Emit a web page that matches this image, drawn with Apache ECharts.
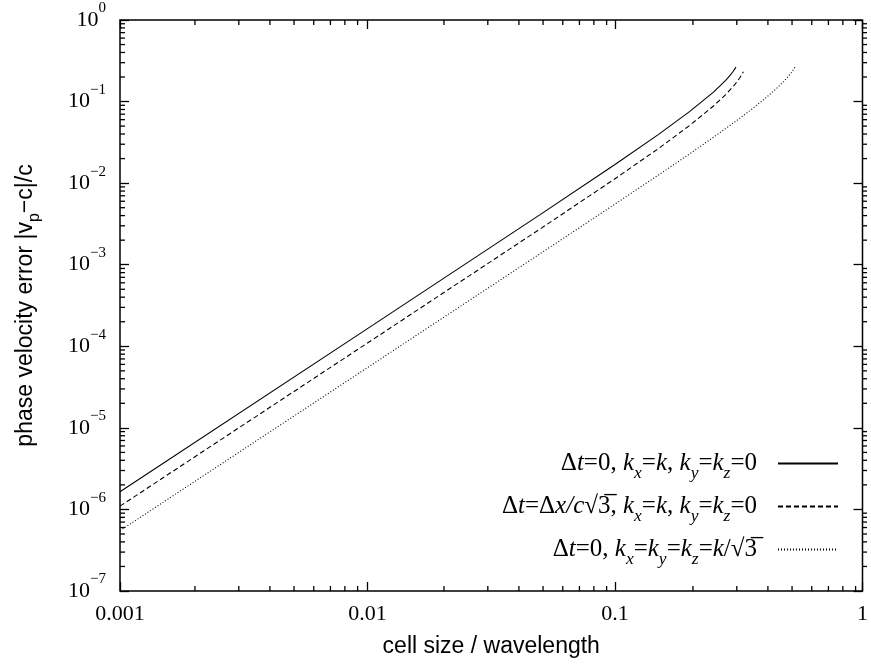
<!DOCTYPE html>
<html>
<head>
<meta charset="utf-8">
<script src="https://cdn.jsdelivr.net/npm/echarts@6/dist/echarts.min.js"></script>
<style>
  html, body { margin: 0; padding: 0; background: #fff; }
  #wrap { position: relative; width: 871px; height: 666px; }
  #chart, #ticks { position: absolute; left: 0; top: 0; width: 871px; height: 666px; }
  #ticks { pointer-events: none; }
</style>
</head>
<body>
<div id="wrap">
  <div id="chart"></div>
  <div id="ticks"></div>
</div>
<script>
// Relative phase velocity error of the Yee scheme versus cell size / wavelength.

// Along x, time step -> 0
const solidX = [0.001, 0.01, 0.05, 0.1, 0.15, 0.2, 0.25, 0.28, 0.29, 0.3, 0.305, 0.308];
const solidY = [1.645e-6, 1.645e-4, 4.141e-3, 0.01693, 0.03965, 0.0752, 0.1305, 0.1818, 0.2049, 0.2338, 0.2518, 0.2645];

// Along x, time step dx/(c*sqrt3)
const dashedX = [0.001, 0.01, 0.05, 0.1, 0.15, 0.2, 0.25, 0.28, 0.3, 0.31, 0.32, 0.325, 0.33];
const dashedY = [1.097e-6, 1.097e-4, 2.763e-3, 0.01133, 0.02664, 0.0508, 0.0882, 0.1218, 0.1526, 0.1724, 0.1974, 0.2131, 0.2326];

// Along the cube diagonal, time step -> 0
const dottedX = [0.001, 0.01, 0.05, 0.1, 0.15, 0.2, 0.25, 0.3, 0.35, 0.4, 0.45, 0.48, 0.5, 0.52, 0.53, 0.535];
const dottedY = [5.483e-7, 5.483e-5, 1.374e-3, 5.534e-3, 0.01261, 0.0228, 0.03651, 0.0543, 0.0770, 0.1063, 0.1452, 0.1759, 0.2016, 0.2345, 0.2558, 0.2686];

// Axis ranges and tick labels
const xRange = [0.001, 1];
const yRange = [1e-7, 1];
const xTickValues = [0.001, 0.01, 0.1, 1];
const xTickLabels = ['0.001', '0.01', '0.1', '1'];
const yTickExponents = ['\u22127', '\u22126', '\u22125', '\u22124', '\u22123', '\u22122', '\u22121', '0'];

// Legend entries (rich text markup)
const seriesNames = ['axis, dt=0', 'axis, dt=dx/c sqrt3', 'diagonal, dt=0'];
const legendLabels = [
  '{r|\u0394}{i|t}{r|=0, }{i|k}{sub|x}{r|=}{i|k}{r|, }{i|k}{sub|y}{r|=}{i|k}{sub|z}{r|=0}',
  '{r|\u0394}{i|t}{r|=\u0394}{i|x/c}{r|\u221a3\u0305, }{i|k}{sub|x}{r|=}{i|k}{r|, }{i|k}{sub|y}{r|=}{i|k}{sub|z}{r|=0}',
  '{r|\u0394}{i|t}{r|=0, }{i|k}{sub|x}{r|=}{i|k}{sub|y}{r|=}{i|k}{sub|z}{r|=}{i|k}{r|/\u221a3\u0305}'
];

// Minor ticks at 2..9 of every decade
function minorTicks(fromExp, toExp) {
  const vals = [];
  for (let e = fromExp; e < toExp; e++) {
    for (let m = 2; m <= 9; m++) vals.push(+(m * Math.pow(10, e)).toPrecision(6));
  }
  return vals;
}
const xMinor = minorTicks(-3, 0);
const yMinor = minorTicks(-7, 0);

const SERIF = '"Liberation Serif", "DejaVu Serif", serif';
const SANS = '"Liberation Sans", Arial, sans-serif';
const MINOR_LEN = 5;
const TICK_W = 1.3;

function pairs(xs, ys) { return xs.map((x, i) => [x, ys[i]]); }

// ---- Minor tick layer (set up first, on its own transparent canvas over the chart) ----
function minorTickSeries(values, side) {
  const horizontal = side === 'left' || side === 'right';
  const data = values.map(v => {
    if (side === 'bottom') return [v, yRange[0]];
    if (side === 'top') return [v, yRange[1]];
    if (side === 'left') return [xRange[0], v];
    return [xRange[1], v];
  });
  const offsets = { bottom: [0, -MINOR_LEN / 2], top: [0, MINOR_LEN / 2], left: [MINOR_LEN / 2, 0], right: [-MINOR_LEN / 2, 0] };
  return {
    type: 'scatter', xAxisIndex: 0, yAxisIndex: 0, silent: true, clip: false, z: 5,
    data: data, symbol: 'rect',
    symbolSize: horizontal ? [MINOR_LEN, TICK_W] : [TICK_W, MINOR_LEN],
    symbolOffset: offsets[side],
    itemStyle: { color: '#000', opacity: 1 },
    emphasis: { disabled: true }
  };
}

try {
  const tickLayer = echarts.init(document.getElementById('ticks'), null, { renderer: 'canvas' });
  tickLayer.setOption({
    animation: false,
    grid: { left: 120, right: 4, top: 20, bottom: 75, show: false },
    xAxis: [{ type: 'log', logBase: 10, min: xRange[0], max: xRange[1], position: 'bottom',
      axisLine: { show: false }, splitLine: { show: false }, axisTick: { show: false }, axisLabel: { show: false } }],
    yAxis: [{ type: 'log', logBase: 10, min: yRange[0], max: yRange[1], position: 'left',
      axisLine: { show: false }, splitLine: { show: false }, axisTick: { show: false }, axisLabel: { show: false } }],
    series: [
      minorTickSeries(xMinor, 'bottom'), minorTickSeries(xMinor, 'top'),
      minorTickSeries(yMinor, 'left'), minorTickSeries(yMinor, 'right')
    ]
  });
} catch (err) { /* tick layer is decorative */ }

// ---- Main chart: frame, major ticks, labels, curves and key ----
function xAxisDef(position) {
  const main = position === 'bottom';
  return {
    type: 'log', logBase: 10, min: xRange[0], max: xRange[1], interval: 1, position: position,
    axisLine: { show: false },
    splitLine: { show: false },
    axisTick: { show: true, inside: true, length: 9, lineStyle: { color: '#000', width: TICK_W } },
    axisLabel: main ? {
      show: true, margin: 12, color: '#000', fontFamily: SERIF, fontSize: 22,
      formatter: function (v) {
        const e = Math.round(Math.log10(v));
        const idx = xTickValues.findIndex(t => Math.round(Math.log10(t)) === e);
        return idx >= 0 ? xTickLabels[idx] : '';
      }
    } : { show: false },
    name: main ? 'cell size / wavelength' : '',
    nameLocation: 'middle', nameGap: 44,
    nameTextStyle: { color: '#000', fontFamily: SANS, fontSize: 23 }
  };
}

function yAxisDef(position) {
  const main = position === 'left';
  return {
    type: 'log', logBase: 10, min: yRange[0], max: yRange[1], interval: 1, position: position,
    axisLine: { show: false },
    splitLine: { show: false },
    axisTick: { show: true, inside: true, length: 9, lineStyle: { color: '#000', width: TICK_W } },
    axisLabel: main ? {
      show: true, margin: 14, color: '#000',
      padding: [0, 0, 8, 0],
      formatter: function (v) {
        const e = Math.round(Math.log10(v));
        return '{b|10}{s|' + yTickExponents[e + 7] + '}';
      },
      rich: {
        b: { fontFamily: SERIF, fontSize: 22, color: '#000', verticalAlign: 'bottom', padding: [8, 0, 0, 0] },
        s: { fontFamily: SERIF, fontSize: 15, color: '#000', verticalAlign: 'top' }
      }
    } : { show: false },
    name: main ? 'phase velocity error |v{sub|p}\u2212c|/c' : '',
    nameLocation: 'middle', nameGap: 83, nameRotate: 90,
    nameTextStyle: {
      color: '#000', fontFamily: SANS, fontSize: 23,
      rich: { sub: { fontFamily: SANS, fontSize: 16, color: '#000', verticalAlign: 'bottom', padding: [0, 0, -6, 0] } }
    }
  };
}

const lineStyles = [
  { color: '#000', width: 1.1, type: 'solid' },
  { color: '#000', width: 1.1, type: [5, 3] },
  { color: '#000', width: 1.1, type: [1, 2] }
];
const seriesData = [pairs(solidX, solidY), pairs(dashedX, dashedY), pairs(dottedX, dottedY)];

const curveSeries = seriesNames.map((name, i) => ({
  name: name,
  type: 'line',
  xAxisIndex: 0,
  yAxisIndex: 0,
  data: seriesData[i],
  showSymbol: false,
  symbol: 'none',
  lineStyle: lineStyles[i],
  itemStyle: { color: '#000' },
  emphasis: { disabled: true }
}));

try {
  const chart = echarts.init(document.getElementById('chart'), null, { renderer: 'canvas' });
  chart.setOption({
    animation: false,
    backgroundColor: '#fff',
    grid: { left: 120, right: 4, top: 20, bottom: 75, show: true, borderColor: '#000', borderWidth: 1.5, backgroundColor: 'transparent' },
    xAxis: [xAxisDef('bottom'), xAxisDef('top')],
    yAxis: [yAxisDef('left'), yAxisDef('right')],
    legend: {
      data: seriesNames,
      orient: 'vertical',
      align: 'right',
      right: 27,
      top: 446,
      itemGap: 12,
      itemWidth: 60,
      itemHeight: 14,
      selectedMode: false,
      itemStyle: { color: 'rgba(0,0,0,0)', borderWidth: 0, opacity: 0 },
      formatter: function (name) {
        return legendLabels[seriesNames.indexOf(name)];
      },
      textStyle: {
        color: '#000', padding: [0, 16, 0, 0],
        rich: {
          r: { fontFamily: SERIF, fontSize: 25, color: '#000' },
          i: { fontFamily: SERIF, fontSize: 25, fontStyle: 'italic', color: '#000' },
          sub: { fontFamily: SERIF, fontSize: 17.5, fontStyle: 'italic', color: '#000', verticalAlign: 'bottom', padding: [0, 0, -6, 0] }
        }
      }
    },
    series: curveSeries
  });
} catch (err) { /* keep whatever has been drawn */ }
</script>
</body>
</html>
